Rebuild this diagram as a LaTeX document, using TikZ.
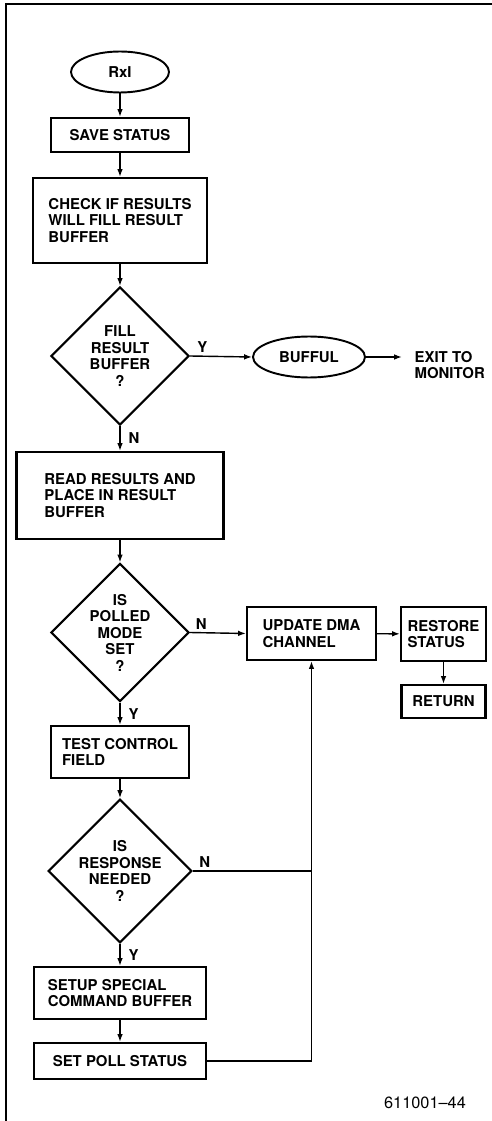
\documentclass[tikz,border=0pt]{standalone}
\usepackage{fontspec}
\setmainfont{TeX Gyre Heros}
\usepackage{tikz}
\usetikzlibrary{arrows.meta, positioning, calc, shapes.geometric}

\begin{document}
\begin{tikzpicture}[>={Latex[length=4.5pt, width=3.2pt]}, x=0.02cm, y=-0.02cm,
    font=\bfseries\fontsize{8.5}{9.4}\selectfont,
    procbox/.style={draw, line width=1.2pt, align=left, inner sep=1pt},
    decision/.style={draw, diamond, line width=1.2pt, align=center, inner sep=0pt,
        minimum width=2.76cm, minimum height=2.76cm},
    terminal/.style={draw, ellipse, line width=1.1pt, inner sep=0pt},
    lbl/.style={inner sep=1.5pt},
    flow/.style={->, line width=0.8pt}]

    % moldura
    \useasboundingbox (0, 0) rectangle (492, 1121);
    \draw[line width=1pt] (492, 4) -- (6, 4) -- (6, 1121);

    % coluna principal
    \node[terminal, minimum width=1.96cm, minimum height=0.82cm] (rxi) at (120, 72) {RxI};
    \node[procbox, minimum width=2.76cm, minimum height=0.68cm] (save) at (120, 135) {SAVE STATUS};
    \node[procbox, minimum width=3.48cm, minimum height=1.7cm] (check) at (120, 220.5)
        {CHECK IF RESULTS\\WILL FILL RESULT\\BUFFER};
    \node[decision] (fill) at (120, 356) {FILL\\RESULT\\BUFFER\\?};
    \node[procbox, minimum width=4.14cm, minimum height=1.74cm] (read) at (120, 495.5)
        {READ RESULTS AND\\PLACE IN RESULT\\BUFFER};
    \node[decision] (polled) at (120, 632.5) {IS\\POLLED\\MODE\\SET\\?};
    \node[procbox, minimum width=2.76cm, minimum height=1.04cm] (test) at (120, 752)
        {TEST CONTROL\\FIELD};
    \node[decision] (resp) at (120, 871) {IS\\RESPONSE\\NEEDED\\?};
    \node[procbox, minimum width=3.44cm, minimum height=1.04cm] (setup) at (120, 993)
        {SETUP SPECIAL\\COMMAND BUFFER};
    \node[procbox, minimum width=3.44cm, minimum height=0.72cm] (setpoll) at (120, 1061)
        {SET POLL STATUS};

    % lado direito
    \node[terminal, minimum width=2.24cm, minimum height=0.82cm] (bufful) at (309, 357) {BUFFUL};
    \node[anchor=north west, align=left, inner xsep=7pt, inner ysep=0pt] (exit) at (402, 351)
        {EXIT TO\\MONITOR};
    \node[procbox, minimum width=2.58cm, minimum height=1.06cm] (update) at (311.5, 633.5)
        {UPDATE DMA\\CHANNEL};
    \node[procbox, minimum width=1.7cm, minimum height=1.08cm] (restore) at (443.5, 634)
        {RESTORE\\STATUS};
    \node[procbox, minimum width=1.68cm, minimum height=0.66cm] (ret) at (443.5, 701.5) {RETURN};

    \node[font=\fontsize{9.3}{10}\selectfont] (fignum) at (425, 1103) {611001--44};

    % ligacoes
    \draw[flow] (rxi) -- (save);
    \draw[flow] (save) -- (check);
    \draw[flow] (check) -- (fill);
    \draw[flow] (fill.east) -- node[lbl, above, pos=0.2] (fy) {Y} (bufful.west);
    \draw[flow] (bufful.east) -- (bufful.east -| exit.west);
    \draw[flow] (fill.south) -- node[lbl, right=3pt] (fn) {N} (read.north);
    \draw[flow] (read) -- (polled);
    \draw[flow] (polled.east) -- node[lbl, above, pos=0.2] (pn) {N} (update.west);
    \draw[flow] (update) -- (restore);
    \draw[flow] (restore) -- (ret);
    \draw[flow] (polled.south) -- node[lbl, right=3pt] (py) {Y} (test.north);
    \draw[flow] (test) -- (resp);
    \draw[line width=0.8pt] (resp.east) -- node[lbl, above, pos=0.1] (rn) {N} (resp.east -| update.south);
    \draw[flow] (resp.south) -- node[lbl, right=3pt] (ry) {Y} (setup.north);
    \draw[flow] (setup) -- (setpoll);
    \draw[flow] (setpoll.east) -| (update.south);

\end{tikzpicture}
\end{document}
